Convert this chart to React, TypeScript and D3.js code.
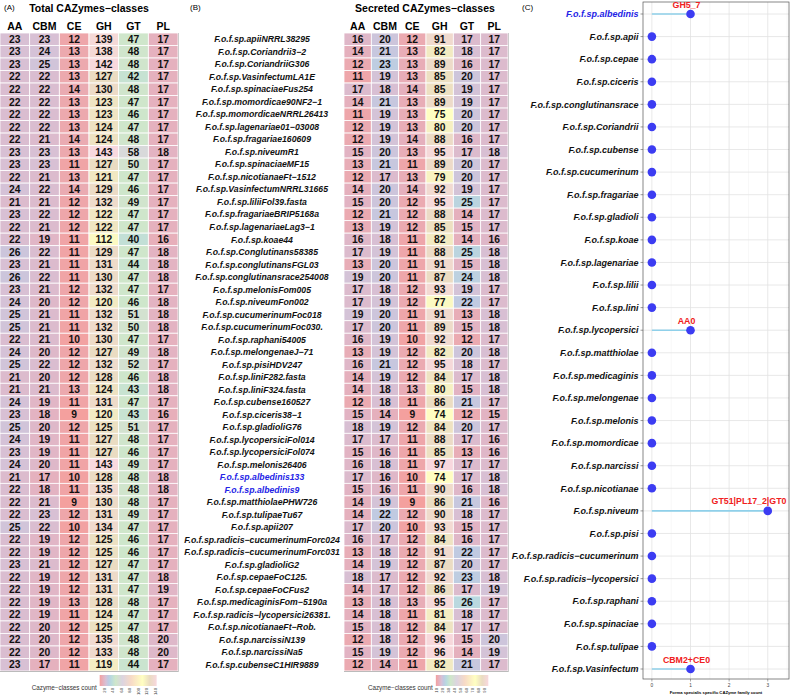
import * as d3 from "d3";

const classes = ["AA", "CBM", "CE", "GH", "GT", "PL"];

const strains = [
  "F.o.f.sp.apiiNRRL38295", "F.o.f.sp.Coriandrii3−2", "F.o.f.sp.CoriandriiG306", "F.o.f.sp.VasinfectumLA1E",
  "F.o.f.sp.spinaciaeFus254", "F.o.f.sp.momordicae90NF2−1", "F.o.f.sp.momordicaeNRRL26413", "F.o.f.sp.lagenariae01−03008",
  "F.o.f.sp.fragariae160609", "F.o.f.sp.niveumR1", "F.o.f.sp.spinaciaeMF15", "F.o.f.sp.nicotianaeFt−1512",
  "F.o.f.sp.VasinfectumNRRL31665", "F.o.f.sp.liliiFol39.fasta", "F.o.f.sp.fragariaeBRIP5168a", "F.o.f.sp.lagenariaeLag3−1",
  "F.o.f.sp.koae44", "F.o.f.sp.Conglutinans58385", "F.o.f.sp.conglutinansFGL03", "F.o.f.sp.conglutinansrace254008",
  "F.o.f.sp.melonisFom005", "F.o.f.sp.niveumFon002", "F.o.f.sp.cucumerinumFoc018", "F.o.f.sp.cucumerinumFoc030.",
  "F.o.f.sp.raphani54005", "F.o.f.sp.melongenaeJ−71", "F.o.f.sp.pisiHDV247", "F.o.f.sp.liniF282.fasta",
  "F.o.f.sp.liniF324.fasta", "F.o.f.sp.cubense160527", "F.o.f.sp.ciceris38−1", "F.o.f.sp.gladioliG76",
  "F.o.f.sp.lycopersiciFol014", "F.o.f.sp.lycopersiciFol074", "F.o.f.sp.melonis26406", "F.o.f.sp.albedinis133",
  "F.o.f.sp.albedinis9", "F.o.f.sp.matthiolaePHW726", "F.o.f.sp.tulipaeTu67", "F.o.f.sp.apii207",
  "F.o.f.sp.radicis−cucumerinumForc024", "F.o.f.sp.radicis−cucumerinumForc031", "F.o.f.sp.gladioliG2", "F.o.f.sp.cepaeFoC125.",
  "F.o.f.sp.cepaeFoCFus2", "F.o.f.sp.medicaginisFom−5190a", "F.o.f.sp.radicis−lycopersici26381.", "F.o.f.sp.nicotianaeFt−Rob.",
  "F.o.f.sp.narcissiN139", "F.o.f.sp.narcissiNa5", "F.o.f.sp.cubenseC1HIR9889",
];

// Total CAZymes
const totalAA = [23,23,23,22,22,22,22,22,22,23,23,22,24,21,23,22,22,26,23,26,23,24,25,25,22,24,25,21,21,24,23,25,24,23,24,21,22,22,22,25,22,22,23,22,22,22,22,22,22,22,23];
const totalCBM = [23,24,25,22,22,22,22,22,21,23,23,21,22,21,22,21,19,22,21,22,21,20,21,21,21,20,22,20,21,19,18,20,19,19,20,17,18,21,23,22,19,19,21,19,19,19,19,20,20,20,17];
const totalCE = [12,13,13,13,14,13,13,13,14,13,11,13,14,12,12,12,11,11,11,11,12,12,11,11,10,12,12,12,13,11,9,12,11,11,11,10,11,9,12,10,12,12,12,12,12,13,11,12,12,12,11];
const totalGH = [139,138,142,127,130,123,123,124,124,143,127,121,129,132,122,122,112,129,131,130,132,120,132,132,130,127,132,128,124,131,120,125,127,127,143,128,135,130,131,134,125,125,127,131,131,128,124,125,135,133,119];
const totalGT = [47,48,48,42,48,47,46,47,48,58,50,47,46,49,47,47,40,47,44,47,47,46,51,50,47,49,52,46,43,47,43,51,48,46,49,48,48,48,49,47,46,46,47,47,47,48,47,47,48,48,44];
const totalPL = [17,17,17,17,17,17,17,17,17,18,17,17,17,17,17,17,16,18,18,18,17,18,18,18,17,18,17,18,18,17,16,17,17,17,17,18,18,17,17,17,17,17,17,18,19,17,17,17,20,20,17];

// Secreted CAZymes
const secAA = [16,14,12,11,17,14,11,12,12,15,13,12,14,15,12,13,16,17,13,19,17,17,19,17,16,13,16,14,14,12,15,18,17,15,16,17,15,14,14,17,16,13,14,18,14,13,14,15,12,15,12];
const secCBM = [20,21,23,19,18,21,19,19,19,20,21,17,20,20,21,19,18,19,20,20,18,19,20,20,19,19,21,19,18,18,14,19,17,16,18,16,16,19,22,20,17,18,19,17,17,18,18,18,18,19,14];
const secCE = [12,13,13,13,14,13,13,13,14,13,11,13,14,12,12,12,11,11,11,11,12,12,11,11,10,12,12,12,13,11,9,12,11,11,11,10,11,9,12,10,12,12,12,12,12,13,11,12,12,12,11];
const secGH = [91,82,89,85,85,89,75,80,88,95,89,79,92,95,88,85,82,88,91,87,93,77,91,89,92,82,95,84,80,86,74,84,88,85,97,74,90,86,90,93,84,91,87,92,86,95,81,84,96,96,82];
const secGT = [17,18,16,20,19,19,20,20,16,17,20,20,19,25,14,15,14,25,15,24,19,22,13,15,12,20,18,17,15,21,12,20,17,13,17,17,16,21,18,15,16,22,20,23,17,26,18,17,15,14,21];
const secPL = [17,17,17,17,17,17,17,17,17,18,17,17,17,17,17,17,16,18,18,18,17,17,18,18,17,18,17,18,18,17,15,17,16,16,17,18,18,16,17,17,17,17,17,18,19,17,17,17,20,19,17];

const highlighted = ["F.o.f.sp.albedinis133", "F.o.f.sp.albedinis9", "F.o.f.sp.albedinis"];

// Panel C
const formae = [
  "F.o.f.sp.albedinis", "F.o.f.sp.apii", "F.o.f.sp.cepae", "F.o.f.sp.ciceris", "F.o.f.sp.conglutinansrace",
  "F.o.f.sp.Coriandrii", "F.o.f.sp.cubense", "F.o.f.sp.cucumerinum", "F.o.f.sp.fragariae", "F.o.f.sp.gladioli",
  "F.o.f.sp.koae", "F.o.f.sp.lagenariae", "F.o.f.sp.lilii", "F.o.f.sp.lini", "F.o.f.sp.lycopersici",
  "F.o.f.sp.matthiolae", "F.o.f.sp.medicaginis", "F.o.f.sp.melongenae", "F.o.f.sp.melonis", "F.o.f.sp.momordicae",
  "F.o.f.sp.narcissi", "F.o.f.sp.nicotianae", "F.o.f.sp.niveum", "F.o.f.sp.pisi", "F.o.f.sp.radicis−cucumerinum",
  "F.o.f.sp.radicis−lycopersici", "F.o.f.sp.raphani", "F.o.f.sp.spinaciae", "F.o.f.sp.tulipae", "F.o.f.sp.Vasinfectum",
];
const familyCount = [1,0,0,0,0,0,0,0,0,0,0,0,0,0,1,0,0,0,0,0,0,0,3,0,0,0,0,0,0,1];
const familyLabel = ["GH5_7","","","","","","","","","","","","","","AA0","","","","","","","","GT51|PL17_2|GT0","","","","","","","CBM2+CE0"];

const FONT = "'Liberation Sans', Arial, sans-serif";
const stopPos = [0, 0.07, 0.11, 0.15, 0.2, 0.28, 0.4, 0.55, 0.75, 0.88, 1];
const stopCol = ["#F4A09E", "#E2B4C4", "#D6C2D6", "#BFCAE2", "#B9DADE", "#CFE7CA", "#DCD4E0", "#F7DAC6", "#FFFFC2", "#EADCC2", "#F8D8DE"];

function makeColor(min: number, max: number) {
  return d3.scaleLinear<string>()
    .domain(stopPos.map(p => min + p * (max - min)))
    .range(stopCol)
    .interpolate(d3.interpolateRgb);
}

const rowY = d3.scaleBand<number>().domain(d3.range(strains.length)).range([33, 671]);

function Heatmap({ cols, x0, x1, title, titleX }: { cols: number[][]; x0: number; x1: number; title: string; titleX: number }) {
  const all = cols.flat();
  const min = d3.min(all)!;
  const max = d3.max(all)!;
  const color = makeColor(min, max);
  const x = d3.scaleBand<string>().domain(classes).range([x0, x1]);
  const legendX = d3.scaleLinear().domain([min, max]).range([x0 + (x1 - x0) * 0.56, x0 + (x1 - x0) * 0.88]);
  const gradId = "grad" + Math.round(x0);
  const step = max > 120 ? 20 : 10;
  const ticks = d3.range(Math.ceil(min / step) * step, max + 1, step);
  return (
    <g fontFamily={FONT}>
      <text x={titleX} y={12} fontSize={10.5} fontWeight="bold" textAnchor="middle">{title}</text>
      {classes.map(c => (
        <text key={c} x={x(c)! + x.bandwidth() / 2} y={30} fontSize={10.5} fontWeight="bold" textAnchor="middle">{c}</text>
      ))}
      {cols.map((vals, ci) =>
        vals.map((v, ri) => (
          <g key={ci + "-" + ri}>
            <rect x={x(classes[ci])} y={rowY(ri)} width={x.bandwidth()} height={rowY.bandwidth()}
              fill={color(v)} stroke="#fff" strokeWidth={0.8} />
            <text x={x(classes[ci])! + x.bandwidth() / 2} y={rowY(ri)! + rowY.bandwidth() / 2 + 3.7}
              fontSize={10.3} fontWeight="bold" textAnchor="middle" fill="#111">{v}</text>
          </g>
        ))
      )}
      <line x1={x0} x2={x1} y1={671.5} y2={671.5} stroke="#bbb" strokeWidth={1} />
      <line x1={x1 + 0.5} x2={x1 + 0.5} y1={33} y2={672} stroke="#ccc" strokeWidth={1} />
      <defs>
        <linearGradient id={gradId} x1="0" x2="1" y1="0" y2="0">
          {stopPos.map((p, i) => <stop key={i} offset={p} stopColor={stopCol[i]} />)}
        </linearGradient>
      </defs>
      <text x={legendX(min) - 3} y={690} fontSize={6.3} textAnchor="end" fill="#333">Cazyme−classes count</text>
      <rect x={legendX(min)} y={675} width={legendX(max) - legendX(min)} height={11} fill={`url(#${gradId})`} />
      {ticks.map(t => (
        <text key={t} transform={`translate(${legendX(t) + 1.5},${688}) rotate(-90)`} fontSize={4.2}
          textAnchor="end" fill="#333">{t}</text>
      ))}
    </g>
  );
}

function Lollipop() {
  const x = d3.scaleLinear().domain([-0.23, 3.55]).range([643, 789]);
  const y = d3.scalePoint<string>().domain(formae).range([14, 669]);
  const grid = d3.range(0, 3.51, 0.5);
  return (
    <g fontFamily={FONT}>
      <text x={522} y={10} fontSize={8}>(C)</text>
      <rect x={643} y={2} width={146} height={677} fill="#fff" />
      {grid.map(g => (
        <line key={g} x1={x(g)} x2={x(g)} y1={2} y2={679} stroke={g % 1 === 0 ? "#e2e2e2" : "#eeeeee"} strokeWidth={g % 1 === 0 ? 0.8 : 0.5} />
      ))}
      {formae.map(f => (
        <g key={f}>
          <line x1={643} x2={789} y1={y(f)} y2={y(f)} stroke="#e2e2e2" strokeWidth={0.8} />
          <line x1={640.5} x2={643} y1={y(f)} y2={y(f)} stroke="#555" strokeWidth={0.6} />
          <text x={638.5} y={y(f)! + 3.2} fontSize={9} fontWeight="bold" fontStyle="italic" textAnchor="end"
            fill={highlighted.includes(f) ? "#2323e6" : "#111"}>{f}</text>
        </g>
      ))}
      <rect x={643} y={2} width={146} height={677} fill="none" stroke="#555" strokeWidth={0.7} />
      {formae.map((f, i) => {
        const px = x(familyCount[i]);
        const lab = familyLabel[i];
        const halfW = lab.length * 2.6;
        const lx = Math.min(px - 4, 788 - halfW);
        return (
          <g key={f + "p"}>
            <line x1={x(0)} x2={px} y1={y(f)} y2={y(f)} stroke="#8fd0ea" strokeWidth={1.6} />
            <circle cx={px} cy={y(f)} r={4.3} fill="#3c3cf2" />
            {lab && (
              <text x={lx} y={y(f)! - 6.5} fontSize={8.8} fontWeight="bold"
                textAnchor="middle" fill="#f02020">{lab}</text>
            )}
          </g>
        );
      })}
      {[0, 1, 2, 3].map(t => (
        <g key={t}>
          <line x1={x(t)} x2={x(t)} y1={679} y2={681.5} stroke="#555" strokeWidth={0.5} />
          <text x={x(t)} y={687} fontSize={4.8} textAnchor="middle" fill="#444">{t}</text>
        </g>
      ))}
      <text x={716} y={694} fontSize={4.2} fontWeight="bold" textAnchor="middle">Forma specialis specific CAZyme family count</text>
    </g>
  );
}

export default function App() {
  return (
    <svg width={794} height={700} style={{ position: "absolute", left: 0, top: 0, background: "#fff" }}>
      <text x={4} y={10} fontSize={8} fontFamily={FONT}>(A)</text>
      <Heatmap cols={[totalAA, totalCBM, totalCE, totalGH, totalGT, totalPL]} x0={0} x1={178}
        title="Total CAZymes−classes" titleX={89} />
      <text x={190} y={10} fontSize={8} fontFamily={FONT}>(B)</text>
      {strains.map((s, i) => (
        <text key={s} x={262} y={rowY(i)! + rowY.bandwidth() / 2 + 3.1} fontSize={8.7} fontWeight="bold" fontStyle="italic"
          textAnchor="middle" fontFamily={FONT} fill={highlighted.includes(s) ? "#2323e6" : "#111"}>{s}</text>
      ))}
      <Heatmap cols={[secAA, secCBM, secCE, secGH, secGT, secPL]} x0={344} x1={508}
        title="Secreted CAZymes−classes" titleX={425} />
      <Lollipop />
    </svg>
  );
}
